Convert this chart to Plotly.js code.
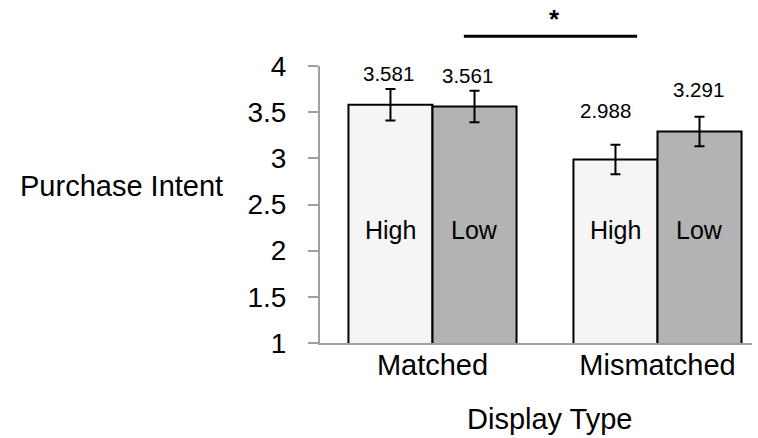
<!DOCTYPE html>
<html>
<head>
<meta charset="utf-8">
<script src="https://cdn.plot.ly/plotly-3.0.1.min.js"></script>
<style>html,body{margin:0;padding:0;background:#fff;}#chart{width:758px;height:438px;}</style>
</head>
<body>
<div id="chart"></div>
<script>
// Data
const categories = ["Matched", "Mismatched"];
const seriesNames = ["High", "Low"];
const highValues = [3.581, 2.988];
const lowValues = [3.561, 3.291];
const highErrors = [0.17, 0.16];
const lowErrors = [0.17, 0.16];
const yTickVals = [1, 1.5, 2, 2.5, 3, 3.5, 4];
const yTickText = ["1", "1.5", "2", "2.5", "3", "3.5", "4"];

const FONT = "Liberation Sans, Arial, Helvetica, sans-serif";
const bargap = 0.253;
const barOffset = (1 - bargap) / 4;

// label placement tweaks (style, not data)
const labelLift = { High: [0.17, 0.37], Low: [0.17, 0.29] };
const labelXShift = { High: [-2, -10], Low: [-7, -1] };

function barTrace(name, vals, errs, color) {
  return {
    type: "bar", name: name, x: categories, y: vals,
    marker: { color: color, line: { color: "#000", width: 2 } },
    error_y: { type: "data", array: errs, visible: true, color: "#000", thickness: 2, width: 5 },
    hoverinfo: "skip"
  };
}

const data = [
  barTrace(seriesNames[0], highValues, highErrors, "#f4f5f4"),
  barTrace(seriesNames[1], lowValues, lowErrors, "#b3b3b3")
];

const annotations = [];
[[seriesNames[0], highValues, highErrors, -1], [seriesNames[1], lowValues, lowErrors, 1]].forEach(([nm, vals, errs, side]) => {
  vals.forEach((v, i) => {
    annotations.push({
      x: i + side * barOffset, y: v + errs[i] + labelLift[nm][i], xref: "x", yref: "y",
      text: v.toFixed(3), showarrow: false, xshift: labelXShift[nm][i],
      font: { family: FONT, size: 20.5, color: "#000" }
    });
    annotations.push({
      x: i + side * barOffset, y: 2.22, xref: "x", yref: "y",
      text: nm, showarrow: false,
      font: { family: FONT, size: 25, color: "#000" }
    });
  });
});
annotations.push({ x: 0.542, y: 1.171, xref: "paper", yref: "paper", xanchor: "center", yanchor: "middle", text: "<b>*</b>", showarrow: false, font: { family: FONT, size: 26, color: "#000" } });
annotations.push({ x: -0.460, y: 0.567, xref: "paper", yref: "paper", xanchor: "center", yanchor: "middle", text: "Purchase Intent", showarrow: false, font: { family: FONT, size: 29, color: "#000" } });
annotations.push({ x: 0.532, y: -0.276, xref: "paper", yref: "paper", xanchor: "center", yanchor: "middle", text: "Display Type", showarrow: false, font: { family: FONT, size: 29, color: "#000" } });

const layout = {
  width: 758, height: 438,
  margin: { l: 320, r: 6, t: 66, b: 95, pad: 0 },
  paper_bgcolor: "#fff", plot_bgcolor: "#fff",
  showlegend: false,
  barmode: "group", bargap: bargap, bargroupgap: 0,
  font: { family: FONT, color: "#000" },
  xaxis: {
    type: "category", range: [-0.5, 1.42],
    showline: true, linecolor: "#a0a0a0", linewidth: 2,
    ticks: "", showgrid: false, zeroline: false, ticklabelstandoff: -5,
    tickfont: { family: FONT, size: 29, color: "#000" }
  },
  yaxis: {
    range: [1, 4], tickvals: yTickVals, ticktext: yTickText,
    showline: true, linecolor: "#a0a0a0", linewidth: 2,
    ticks: "outside", ticklen: 10, tickwidth: 2, tickcolor: "#a0a0a0",
    showgrid: false, zeroline: false, ticklabelstandoff: 16,
    tickfont: { family: FONT, size: 28, color: "#000" }
  },
  shapes: [{
    type: "line", xref: "paper", yref: "paper",
    x0: 0.333, x1: 0.734, y0: 1.107, y1: 1.107,
    line: { color: "#000", width: 3 }
  }],
  annotations: annotations
};

Plotly.newPlot("chart", data, layout, { displayModeBar: false, staticPlot: true });
</script>
</body>
</html>
